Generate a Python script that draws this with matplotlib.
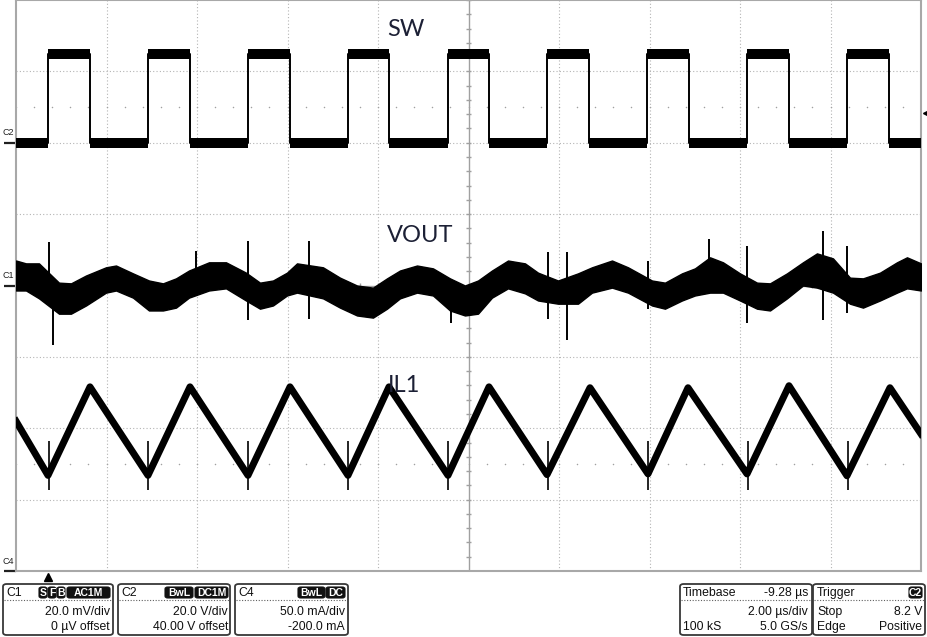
import numpy as np
import matplotlib.pyplot as plt
from matplotlib.patches import FancyBboxPatch

W, H = 928, 637

# channel settings as shown on the scope (value per div, offset)
c1_scale, c1_offset = 20.0, 0.0      # mV
c2_scale, c2_offset = 20.0, 40.0     # V
c4_scale, c4_offset = 50.0, -200.0   # mA
trig_level_v = 8.2
t_div_us = 2.0
t_start_us = -0.707                   # left edge of screen, trigger at 0

# C2 : SW node
sw_rise_us = [0.0, 2.21, 4.42, 6.63, 8.84, 11.03, 13.24, 15.45, 17.66]
sw_fall_us = [0.93, 3.14, 5.35, 7.54, 9.75, 11.96, 14.17, 16.38, 18.59]
sw_high_v = 25.0
sw_low_v = -0.2
sw_noise_v = 1.4

# C1 : VOUT ripple envelope (AC coupled)
vout_t_us = [-0.707, -0.486, -0.199, 0.243, 0.508, 0.840, 1.282, 1.503, 1.878,
             2.232, 2.541, 2.829, 3.116, 3.558, 3.934, 4.376, 4.685, 4.972,
             5.282, 5.503, 6.077, 6.453, 6.829, 7.182, 7.492, 7.779, 8.155,
             8.508, 8.884, 9.215, 9.503, 9.812, 10.166, 10.541, 10.829, 11.271,
             11.713, 12.022, 12.464, 12.818, 13.348, 13.635, 14.011, 14.298,
             14.630, 14.917, 15.293, 15.669, 15.956, 16.331, 16.685, 16.994,
             17.348, 17.724, 18.011, 18.387, 18.762, 18.983, 19.293]
vout_top_mv = [7.0, 6.2, 6.2, 0.8, 0.6, 2.8, 5.1, 5.6, 3.4,
               1.4, 0.6, 2.0, 4.2, 6.5, 6.5, 3.6, 0.8, 1.4,
               3.6, 6.2, 5.1, 2.2, 0.0, -0.6, 2.0, 4.2, 5.6,
               4.8, 2.0, 0.0, 1.4, 4.2, 7.0, 6.2, 3.6, 1.4,
               3.4, 5.1, 7.0, 5.1, 1.4, 0.8, 3.4, 4.8,
               7.9, 6.5, 3.4, 0.8, 0.6, 3.4, 6.5, 9.0,
               7.6, 2.2, 2.0, 3.6, 6.5, 7.9, 6.2]
vout_bot_mv = [-1.4, -1.4, -3.6, -7.9, -7.9, -5.6, -2.0, -1.4, -3.4,
               -7.0, -7.0, -6.2, -3.4, -1.4, -0.8, -4.2, -6.5, -5.6,
               -2.8, -2.0, -3.6, -6.2, -8.4, -9.0, -6.5, -3.6, -2.0,
               -2.8, -7.0, -8.4, -7.9, -3.4, -0.8, -2.2, -4.2, -5.1,
               -5.1, -2.0, -0.6, -2.0, -5.6, -6.5, -4.2, -2.8,
               -2.0, -2.0, -4.2, -6.5, -7.0, -3.6, 0.0, -0.6,
               -2.0, -5.1, -6.2, -4.2, -2.0, -0.8, -1.4]
vout_spike_t_us = [0.02, 0.11, 3.27, 4.42, 5.77, 8.91, 11.05, 11.47, 13.26,
                   14.61, 15.45, 17.13, 17.66]
vout_spike_top_mv = [12.1, 0.0, 9.8, 12.6, 12.6, 0.0, 9.3, 9.3, 7.0,
                     12.9, 11.2, 15.4, 11.2]
vout_spike_bot_mv = [0.0, -16.8, 0.0, -9.8, -9.3, -10.4, -9.3, -15.4, -6.5,
                     0.0, -10.4, -9.8, -7.6]

# C4 : IL1 inductor current
il_t_us = [-0.707, 0.0, 0.928, 2.210, 3.138, 4.420, 5.348, 6.630, 7.536,
           8.840, 9.746, 11.028, 11.978, 13.260, 14.144, 15.448, 16.376,
           17.657, 18.607, 19.293]
il_ma = [105, 67, 129, 67, 129, 67, 129, 67, 129,
         67, 129, 67.5, 128.4, 68, 128.4, 68, 129.8,
         66.7, 128.4, 96]
il_spike_t_us = [0.02, 2.22, 4.43, 6.64, 8.85, 11.04, 13.26, 15.46, 17.67]
il_spike_top_ma = 91
il_spike_bot_ma = 57


def to_div(vals, scale, offset):
    return (np.asarray(vals, dtype=float) + offset) / scale


def px(x, y):
    return x / W, 1 - y / H


t_end_us = t_start_us + 10 * t_div_us

fig = plt.figure(figsize=(W / 100, H / 100), dpi=100)
fig.patch.set_facecolor('white')
ax = fig.add_axes([16 / W, (H - 571) / H, 905 / W, 571 / H])
ax.set_xlim(t_start_us, t_end_us)
ax.set_ylim(-4, 4)
ax.set_xticks([])
ax.set_yticks([])
for s in ax.spines.values():
    s.set_color('#a8a8a8')
    s.set_linewidth(1.5)

# graticule
grid_c = '#b4b4b4'
t_c = t_start_us + 5 * t_div_us
for k in range(1, 10):
    if k == 5:
        continue
    ax.axvline(t_start_us + k * t_div_us, color=grid_c, lw=0.8, ls=(0, (1, 2)), zorder=0)
for k in range(-3, 4):
    if k == 0:
        continue
    ax.axhline(k, color=grid_c, lw=0.8, ls=(0, (1, 2)), zorder=0)
ax.axvline(t_c, color='#a0a0a0', lw=1.0, zorder=0)
ax.axhline(0, color='#a0a0a0', lw=1.0, zorder=0)
yt = np.arange(-4, 4.01, 0.2)
ax.hlines(yt, t_c - 0.066, t_c + 0.066, color='#a0a0a0', lw=1.0, zorder=0)
xt = np.arange(t_start_us, t_end_us + 0.01, 0.4)
ax.vlines(xt, -0.042, 0.042, color='#a0a0a0', lw=1.0, zorder=0)
for yy in (2.5, -2.5):
    ax.scatter(xt, np.full_like(xt, yy), s=1.2, color='#a0a0a0', lw=0, zorder=0)

# SW
edges = sorted(sw_rise_us + sw_fall_us)
sw_t = [t_start_us]
sw_v = [sw_low_v]
level = sw_low_v
for e in edges:
    sw_t += [e, e]
    nxt = sw_high_v if level == sw_low_v else sw_low_v
    sw_v += [level, nxt]
    level = nxt
sw_t.append(t_end_us)
sw_v.append(level)
ax.plot(sw_t, to_div(sw_v, c2_scale, c2_offset), color='black', lw=1.4, zorder=3)
for r, f in zip(sw_rise_us, sw_fall_us):
    ax.fill_between([r, f], *to_div([sw_high_v - sw_noise_v, sw_high_v + sw_noise_v],
                                     c2_scale, c2_offset)[:, None], color='black', lw=0, zorder=3)
lows = [t_start_us] + sw_fall_us
highs = sw_rise_us + [t_end_us]
for a, b in zip(lows, highs):
    ax.fill_between([a, b], *to_div([sw_low_v - sw_noise_v, sw_low_v + sw_noise_v],
                                     c2_scale, c2_offset)[:, None], color='black', lw=0, zorder=3)

# VOUT
ax.fill_between(vout_t_us, to_div(vout_top_mv, c1_scale, c1_offset),
                to_div(vout_bot_mv, c1_scale, c1_offset),
                color='black', edgecolor='black', lw=1.0, zorder=3)
ax.vlines(vout_spike_t_us, to_div(vout_spike_bot_mv, c1_scale, c1_offset),
          to_div(vout_spike_top_mv, c1_scale, c1_offset), color='black', lw=1.4, zorder=3)

# IL1
ax.plot(il_t_us, to_div(il_ma, c4_scale, c4_offset), color='black', lw=5,
        solid_joinstyle='round', zorder=3)
ax.vlines(il_spike_t_us, to_div([il_spike_bot_ma], c4_scale, c4_offset)[0],
          to_div([il_spike_top_ma], c4_scale, c4_offset)[0], color='black', lw=1.2, zorder=3)

# trace labels
lab_c = '#1c2035'
ax.text(*px(387, 29), 'SW', transform=fig.transFigure, fontsize=17, family='Lato',
        color=lab_c, va='center', ha='left')
ax.text(*px(387, 235), 'VOUT', transform=fig.transFigure, fontsize=17, family='Lato',
        color=lab_c, va='center', ha='left')
ax.text(*px(388, 385), 'IL1', transform=fig.transFigure, fontsize=17, family='Lato',
        color=lab_c, va='center', ha='left')

# channel ground markers on the left
ytr = ax.get_yaxis_transform()
for name, gnd in (('C2', to_div([0], c2_scale, c2_offset)[0]),
                  ('C1', to_div([0], c1_scale, c1_offset)[0]),
                  ('C4', to_div([0], c4_scale, c4_offset)[0])):
    ax.plot([-12 / 905, 0], [gnd, gnd], color='#202020', lw=1.6, transform=ytr,
            clip_on=False, solid_capstyle='butt')
    ax.text(-8 / 905, gnd + 0.14, name, transform=ytr, fontsize=6.5,
            family='Liberation Sans', ha='center', va='center', color='#202020')

# trigger markers
ax.plot([t_end_us + 0.1], [to_div([trig_level_v], c2_scale, c2_offset)[0]], marker='<',
        color='black', ms=5, clip_on=False, zorder=5)
ax.plot([0.0], [-4.08], marker='^', color='black', ms=6, clip_on=False, zorder=5)

# info boxes
font = dict(family='Liberation Sans', fontsize=8.8, color='#101010')


def box(x0, x1, y0=584, y1=635):
    fx0, fy1 = px(x0, y1)
    fx1, fy0 = px(x1, y0)
    p = FancyBboxPatch((fx0, fy1), fx1 - fx0, fy0 - fy1, transform=fig.transFigure,
                       boxstyle='round,pad=0,rounding_size=0.004', fc='white',
                       ec='#383838', lw=1.3)
    fig.patches.append(p)
    fig.lines.append(plt.Line2D([fx0 + 1 / W, fx1 - 1 / W], [1 - 600 / H] * 2,
                                transform=fig.transFigure, color='#606060',
                                lw=0.8, ls=(0, (1, 1.5))))


def badge(x0, x1, label, y0=587, y1=598):
    fx0, fy1 = px(x0, y1)
    fx1, fy0 = px(x1, y0)
    p = FancyBboxPatch((fx0, fy1), fx1 - fx0, fy0 - fy1, transform=fig.transFigure,
                       boxstyle='round,pad=0,rounding_size=0.003', fc='#111111',
                       ec='#111111', lw=0.8)
    fig.patches.append(p)
    fig.text((fx0 + fx1) / 2, (fy0 + fy1) / 2, label, ha='center', va='center',
             color='white', family='Liberation Sans', fontsize=7.5, fontweight='bold')


def row_text(x, y, s, ha):
    fig.text(*px(x, y), s, ha=ha, va='center', **font)


box(3, 113)
row_text(6, 593, 'C1', 'left')
badge(39, 47, 'S')
badge(48, 56, 'F')
badge(57, 65, 'B')
badge(67, 110, 'AC1M')
row_text(110, 612, '20.0 mV/div', 'right')
row_text(110, 627, '0 µV offset', 'right')

box(118, 230)
row_text(121, 593, 'C2', 'left')
badge(165, 193, 'BwL')
badge(195, 228, 'DC1M')
row_text(228, 612, '20.0 V/div', 'right')
row_text(228, 627, '40.00 V offset', 'right')

box(235, 348)
row_text(238, 593, 'C4', 'left')
badge(298, 325, 'BwL')
badge(326, 345, 'DC')
row_text(345, 612, '50.0 mA/div', 'right')
row_text(345, 627, '-200.0 mA', 'right')

box(680, 812)
row_text(683, 593, 'Timebase', 'left')
row_text(808, 593, '-9.28 µs', 'right')
row_text(808, 612, '2.00 µs/div', 'right')
row_text(683, 627, '100 kS', 'left')
row_text(808, 627, '5.0 GS/s', 'right')

box(813, 925)
row_text(817, 593, 'Trigger', 'left')
badge(909, 922, 'C2')
row_text(817, 612, 'Stop', 'left')
row_text(922, 612, '8.2 V', 'right')
row_text(817, 627, 'Edge', 'left')
row_text(922, 627, 'Positive', 'right')

fig.savefig('out.png', dpi=100)
